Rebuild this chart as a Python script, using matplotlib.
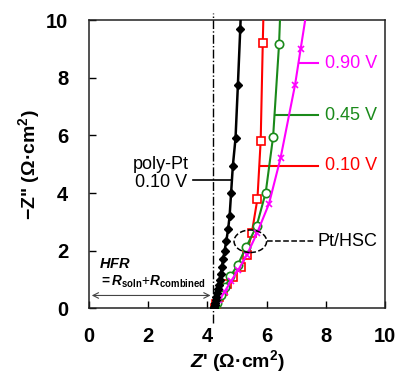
import matplotlib
matplotlib.use("Agg")
import matplotlib.pyplot as plt
from matplotlib.patches import Ellipse

plt.rcParams['font.family'] = 'Liberation Sans'
plt.rcParams['mathtext.fontset'] = 'custom'
plt.rcParams['mathtext.it'] = 'Liberation Sans:italic:bold'
plt.rcParams['mathtext.rm'] = 'Liberation Sans:bold'
plt.rcParams['mathtext.bf'] = 'Liberation Sans:bold'

# poly-Pt, 0.10 V
pt_x = [4.22, 4.23, 4.25, 4.26, 4.28, 4.30, 4.33, 4.35, 4.38, 4.41, 4.45, 4.49,
        4.53, 4.58, 4.64, 4.70, 4.75, 4.80, 4.86, 4.95, 5.03, 5.11, 5.14]
pt_y = [0.0, 0.05, 0.12, 0.2, 0.3, 0.4, 0.52, 0.66, 0.82, 1.0, 1.2, 1.45,
        1.7, 2.0, 2.35, 2.75, 3.2, 4.0, 4.95, 5.9, 7.75, 9.7, 10.5]

# Pt/HSC, 0.10 V
r_x = [4.24, 4.30, 4.40, 4.52, 4.66, 4.86, 5.12, 5.33, 5.50, 5.69, 5.80, 5.87, 5.90]
r_y = [0.03, 0.15, 0.38, 0.62, 0.86, 1.08, 1.44, 1.87, 2.62, 3.80, 5.82, 9.19, 10.5]

# Pt/HSC, 0.45 V
g_x = [4.25, 4.33, 4.45, 4.60, 4.78, 5.03, 5.31, 5.66, 5.97, 6.22, 6.42, 6.47]
g_y = [0.05, 0.20, 0.45, 0.75, 1.12, 1.52, 2.13, 2.85, 4.02, 5.96, 9.16, 10.5]

# Pt/HSC, 0.90 V
m_x = [4.28, 4.40, 4.58, 4.80, 5.05, 5.34, 5.68, 6.08, 6.47, 6.96, 7.15, 7.38]
m_y = [0.05, 0.28, 0.58, 0.95, 1.35, 1.87, 2.62, 3.63, 5.21, 7.75, 9.0, 10.5]

hfr = 4.2
ticks = [0, 2, 4, 6, 8, 10]

fig = plt.figure(figsize=(3.99, 3.78), dpi=100)
ax = fig.add_axes([0.223, 0.184, 0.742, 0.763])

ax.plot(pt_x, pt_y, color='black', lw=1.8, marker='D', ms=4.5, zorder=4)
ax.plot(r_x, r_y, color='red', lw=1.5, marker='s', ms=6, mfc='white', mew=1.2, zorder=3)
ax.plot(g_x, g_y, color='#1a8a1a', lw=1.5, marker='o', ms=6, mfc='white', mew=1.2, zorder=3)
ax.plot(m_x, m_y, color='magenta', lw=1.5, marker='x', ms=5, mew=1.2, zorder=3)

# HFR line
ax.plot([hfr, hfr], [-0.5, 10.25], color='black', lw=1, ls='-.', clip_on=False, zorder=2)
ax.annotate('', xy=(0, 0.45), xytext=(hfr, 0.45),
            arrowprops=dict(arrowstyle='<->', color='#444444', lw=0.8))
ax.text(0.35, 1.55, r'$HFR$', fontsize=10.5, ha='left', va='center')
ax.text(0.35, 0.92, r'$= R_{\rm soln}$+$R_{\rm combined}$', fontsize=9.8,
        ha='left', va='center')

# right-side labels
labels = ['0.90 V', '0.45 V', '0.10 V']
label_y = [8.5, 6.7, 4.95]
label_x0 = [7.1, 6.28, 5.8]
colors = ['magenta', '#1a8a1a', 'red']
for lab, ly, lx, c in zip(labels, label_y, label_x0, colors):
    ax.plot([lx, 7.75], [ly, ly], color=c, lw=1.5, clip_on=False)
    ax.text(7.98, ly, lab, color=c, fontsize=13, va='center', ha='left')

# poly-Pt label
ax.plot([3.5, 4.84], [4.46, 4.46], color='black', lw=1.2)
ax.text(2.42, 4.68, 'poly-Pt\n0.10 V', fontsize=13, ha='center', va='center',
        linespacing=1.1)

# Pt/HSC label
ax.add_patch(Ellipse((5.45, 2.33), 1.1, 0.78, fill=False, ls='--', lw=1.1,
                     color='black', zorder=5))
ax.plot([6.0, 7.65], [2.33, 2.33], color='black', lw=1.1, ls='--')
ax.text(7.72, 2.33, 'Pt/HSC', fontsize=13, ha='left', va='center', clip_on=False)

ax.set_xlim(0, 10)
ax.set_ylim(0, 10)
ax.set_xticks(ticks)
ax.set_yticks(ticks)
ax.tick_params(direction='in', length=5, width=1, labelsize=14.5)
ax.tick_params(axis='y', pad=15)
ax.tick_params(axis='x', pad=13)
for t in ax.get_xticklabels() + ax.get_yticklabels():
    t.set_fontweight('bold')
for s in ax.spines.values():
    s.set_linewidth(1.1)
    s.set_color('#222222')

ax.set_xlabel(r"$Z$' (Ω·cm$^\mathbf{2}$)", fontsize=14, fontweight='bold', labelpad=2)
ax.set_ylabel("\u2212Z\" (Ω·cm$^\mathbf{2}$)", fontsize=14, fontweight='bold', labelpad=3)

fig.savefig('out.png', dpi=100)
